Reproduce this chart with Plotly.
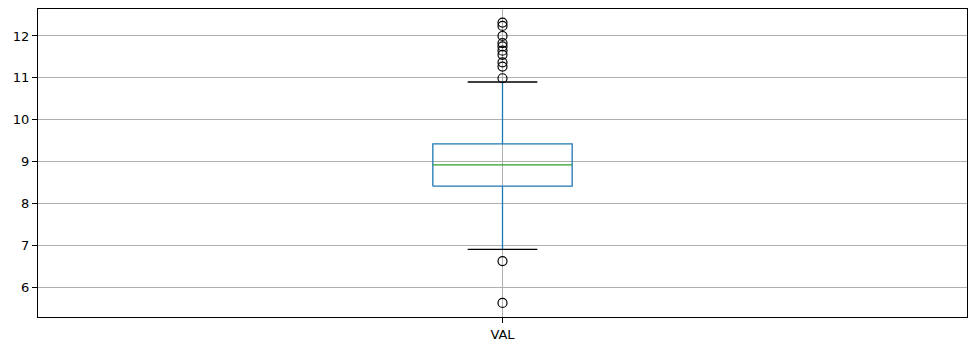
import plotly.graph_objects as go

category = ["VAL"]
q1 = [8.41]
median = [8.92]
q3 = [9.42]
whisker_low = [6.90]
whisker_high = [10.90]
outliers = [5.62, 6.62, 10.99, 11.27, 11.37, 11.55, 11.65, 11.75, 11.83, 12.0, 12.24, 12.32]

pos = 1
half_box = 0.075
half_cap = 0.0375

fig = go.Figure()
# box rectangle
fig.add_trace(go.Scatter(
    x=[pos - half_box, pos + half_box, pos + half_box, pos - half_box, pos - half_box],
    y=[q1[0], q1[0], q3[0], q3[0], q1[0]],
    mode="lines", line=dict(color="#1f77b4", width=1.3), hoverinfo="skip"))
# whiskers
fig.add_trace(go.Scatter(x=[pos, pos], y=[q1[0], whisker_low[0]], mode="lines",
                         line=dict(color="#1f77b4", width=1.3), hoverinfo="skip"))
fig.add_trace(go.Scatter(x=[pos, pos], y=[q3[0], whisker_high[0]], mode="lines",
                         line=dict(color="#1f77b4", width=1.3), hoverinfo="skip"))
# caps
for v in (whisker_low[0], whisker_high[0]):
    fig.add_trace(go.Scatter(x=[pos - half_cap, pos + half_cap], y=[v, v], mode="lines",
                             line=dict(color="black", width=1.3), hoverinfo="skip"))
# median
fig.add_trace(go.Scatter(x=[pos - half_box, pos + half_box], y=[median[0], median[0]], mode="lines",
                         line=dict(color="#2ca02c", width=1.3), hoverinfo="skip"))
# outliers
fig.add_trace(go.Scatter(x=[pos] * len(outliers), y=outliers, mode="markers",
                         marker=dict(symbol="circle-open", size=9, color="black", line=dict(width=1.2))))

axis_common = dict(showline=True, linecolor="black", linewidth=1, mirror=True,
                   ticks="outside", ticklen=5, tickcolor="black",
                   showgrid=True, gridcolor="#b0b0b0", gridwidth=0.8, zeroline=False,
                   tickfont=dict(family="DejaVu Sans", size=13, color="black"))

fig.update_layout(
    width=977, height=351,
    margin=dict(l=38, r=10, t=9, b=34),
    plot_bgcolor="white", paper_bgcolor="white",
    showlegend=False,
    xaxis=dict(range=[0.5, 1.5], tickvals=[pos], ticktext=category, **axis_common),
    yaxis=dict(range=[5.283, 12.645], tickvals=[6, 7, 8, 9, 10, 11, 12], **axis_common),
)

fig.write_html("out.html")
